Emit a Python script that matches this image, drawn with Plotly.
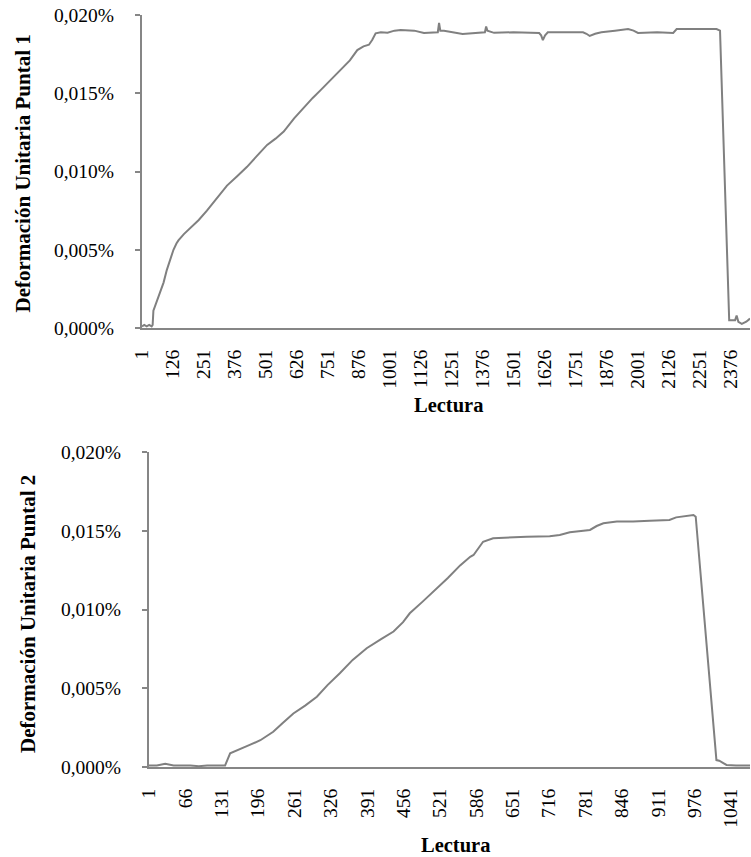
import plotly.graph_objects as go

# ---------------- data (values in percent) ----------------
lectura_1 = [1, 10, 20, 30, 40, 44, 47, 60, 74, 88, 101, 115, 128, 140, 148, 170, 195, 230, 263, 300,
             344, 385, 425, 465, 506, 540, 573, 615, 654, 690, 722, 760, 803, 840, 870, 895, 917, 930,
             944, 965, 992, 1020, 1045, 1100, 1139, 1195, 1200, 1205, 1220, 1260, 1295, 1385, 1390, 1395,
             1422, 1500, 1604, 1612, 1619, 1628, 1639, 1700, 1781, 1795, 1808, 1830, 1855, 1910, 1963,
             1985, 2003, 2080, 2145, 2159, 2240, 2320, 2334, 2371, 2380, 2395, 2401, 2408, 2422, 2440, 2455]
puntal_1 = [0.0001, 0.0002, 0.0001, 0.0002, 0.0001, 0.0002, 0.0011, 0.0017, 0.0022, 0.0029, 0.0037, 0.0044,
            0.0050, 0.0054, 0.0056, 0.0060, 0.0064, 0.0069, 0.0075, 0.0082, 0.0091, 0.0097, 0.0103, 0.0110,
            0.0117, 0.0121, 0.01255, 0.0134, 0.0141, 0.0147, 0.0152, 0.0158, 0.0165, 0.0171, 0.01776, 0.0180,
            0.0181, 0.0184, 0.01883, 0.0189, 0.01887, 0.0190, 0.01904, 0.0190, 0.01885, 0.0189, 0.01949,
            0.0190, 0.0190, 0.0189, 0.01879, 0.0189, 0.01927, 0.0190, 0.01886, 0.0189, 0.01885, 0.0187,
            0.0184, 0.0187, 0.0189, 0.0189, 0.0189, 0.0188, 0.01866, 0.0188, 0.0189, 0.0190, 0.0191,
            0.0190, 0.01885, 0.0189, 0.01885, 0.0191, 0.0191, 0.0191, 0.0190, 0.0005, 0.0005, 0.0005,
            0.0008, 0.0004, 0.00026, 0.0004, 0.0006]

lectura_2 = [1, 15, 30, 45, 60, 75, 90, 105, 120, 137, 146, 160, 181, 200, 223, 240, 259, 280, 301, 320,
             342, 365, 390, 415, 438, 455, 467, 490, 509, 535, 557, 575, 581, 598, 616, 645, 676, 717, 735,
             753, 789, 801, 813, 837, 866, 896, 931, 943, 967, 974, 978, 1015, 1020, 1033, 1050, 1075]
puntal_2 = [0.0001, 0.0001, 0.0002, 0.0001, 0.0001, 0.0001, 0.00005, 0.0001, 0.0001, 0.0001, 0.00087,
            0.0011, 0.0014, 0.0017, 0.00224, 0.0028, 0.0034, 0.0039, 0.00446, 0.0052, 0.00595, 0.0068,
            0.00754, 0.0081, 0.0086, 0.0092, 0.00976, 0.0105, 0.01113, 0.0120, 0.0128, 0.01335, 0.01346,
            0.0143, 0.01452, 0.01458, 0.01462, 0.01465, 0.01473, 0.0149, 0.01505, 0.0153, 0.01547,
            0.01558, 0.01558, 0.01564, 0.01568, 0.01585, 0.0160, 0.0160, 0.01589, 0.00044, 0.0004,
            0.00013, 0.0001, 0.0001]

x_ticks_1 = [1, 126, 251, 376, 501, 626, 751, 876, 1001, 1126, 1251, 1376, 1501, 1626, 1751, 1876,
             2001, 2126, 2251, 2376]
x_ticks_2 = [1, 66, 131, 196, 261, 326, 391, 456, 521, 586, 651, 716, 781, 846, 911, 976, 1041]
y_ticks = [0.0, 0.005, 0.010, 0.015, 0.020]
y_tick_text = ["0,000%", "0,005%", "0,010%", "0,015%", "0,020%"]

# ---------------- figure ----------------
W, H = 751, 857
FONT = "Liberation Serif"
GREY = "#808080"
AX = "#868686"

fig = go.Figure()
fig.add_trace(go.Scatter(x=lectura_1, y=[v / 100 for v in puntal_1], mode="lines",
                         line=dict(color=GREY, width=2), xaxis="x", yaxis="y", showlegend=False))
fig.add_trace(go.Scatter(x=lectura_2, y=[v / 100 for v in puntal_2], mode="lines",
                         line=dict(color=GREY, width=2), xaxis="x2", yaxis="y2", showlegend=False))

def xaxis(dom, ticks, rng, anchor):
    return dict(domain=dom, range=rng, tickmode="array", tickvals=ticks, ticktext=[str(t) for t in ticks],
                tickangle=-90, ticks="", showgrid=False, zeroline=False, showline=True,
                linecolor=AX, linewidth=2, tickfont=dict(family=FONT, size=19.5, color="black"),
                ticklabelstandoff=12, anchor=anchor, automargin=False)

def yaxis(dom, anchor):
    return dict(domain=dom, range=[0, 0.0002], tickmode="array", tickvals=[v / 100 for v in y_ticks],
                ticktext=y_tick_text, ticks="outside", ticklen=5, tickwidth=1.5, tickcolor=AX,
                showgrid=False, zeroline=False, showline=True, linecolor=AX, linewidth=2,
                tickfont=dict(family=FONT, size=19.5, color="black"), ticklabelstandoff=17,
                anchor=anchor, automargin=False)

fig.update_layout(
    width=W, height=H, margin=dict(l=0, r=0, t=0, b=0, autoexpand=False),
    paper_bgcolor="white", plot_bgcolor="white",
    xaxis=xaxis([142 / W, 750 / W], x_ticks_1, [1, 2455], "y"),
    yaxis=yaxis([1 - 328 / H, 1 - 15 / H], "x"),
    xaxis2=xaxis([149 / W, 750 / W], x_ticks_2, [1, 1075], "y2"),
    yaxis2=yaxis([1 - 767 / H, 1 - 452 / H], "x2"),
)

def ann(text, x, y, size, angle=0):
    fig.add_annotation(text=f"<b>{text}</b>", x=x / W, y=1 - y / H, xref="paper", yref="paper",
                       showarrow=False, textangle=angle, xanchor="center", yanchor="middle",
                       font=dict(family=FONT, size=size, color="black"))

ann("Deformación Unitaria Puntal 1", 22.5, 174, 21, -90)
ann("Lectura", 448, 405, 20.5)
ann("Deformación Unitaria Puntal 2", 28, 614, 21, -90)
ann("Lectura", 455, 845, 20.5)

fig.write_html("out.html", config={"displayModeBar": False},
               post_script="document.body.style.margin='0px';document.body.style.overflow='hidden';")
